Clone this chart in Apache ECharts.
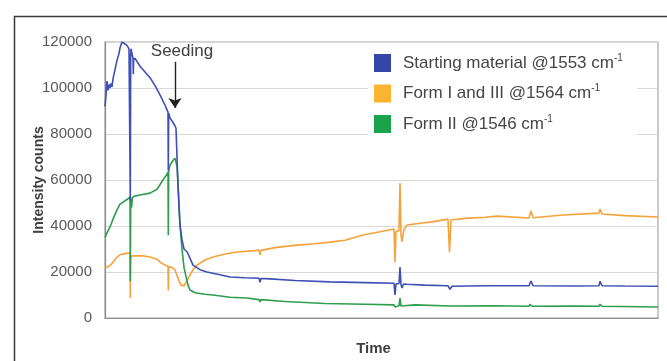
<!DOCTYPE html>
<html><head><meta charset="utf-8">
<script src="https://cdn.jsdelivr.net/npm/echarts@6/dist/echarts.min.js"></script>
<style>html,body{margin:0;padding:0;background:#fff}#c{width:667px;height:361px}</style>
</head><body><div id="c"></div>
<script>
// Time (arbitrary units) and intensity values
const blueT = [0,1,2,3,4,5,6,7,8,10,12,14,15,17,19,22,24,25,25.3,25.7,26,27,28,28.3,28.6,30,32,35,40,45,50,55,60,62,63,63.3,63.7,65,68,70,71,72,73,74,75,77,79,82,85,88,95,102,115,125,140,154,155,156,165,190,225,260,289,290,291,294,295,296,297,298.5,302,320,343,345,347,380,424,426,428,470,494,495,497,520,553];
const blueV = [92000,97000,103000,99000,101500,100000,102000,100500,104000,108000,112000,115000,117500,120000,119500,118500,117000,116500,51000,114000,117000,117000,113000,106000,112000,113000,111500,109500,107000,104500,101000,97000,92500,90500,89500,64000,89000,87000,85000,83500,82500,70000,58000,48000,40500,34000,30000,28800,26000,23000,21000,20000,18800,17800,17500,17300,15500,17200,17000,16300,15700,15400,15100,10000,14800,15000,22200,14500,13000,14800,14700,14300,14000,12500,13800,14000,14000,16100,14000,13900,14000,16000,14000,13900,13800];

const orangeT = [0,3,6,8,11,15,20,25,25.3,25.7,27,30,32,38,45,52,56,60,62,63,63.3,63.7,67,70,72,74,76,77,79,82,85,88,92,100,108,120,132,150,154,155,156,170,192,210,225,240,258,275,289,290,291,294,295,296,297,299,302,315,325,343,344.5,346,360,380,392,424,426,428,458,494,495,497,520,553];
const orangeV = [21700,22300,23200,24000,26000,27500,28000,28300,8700,26000,27000,27000,27400,27000,26500,25500,24000,23000,22800,22500,12000,22300,22000,20900,18500,16000,14300,13500,14000,16000,18700,21000,23000,25200,26500,27800,28700,29300,29600,27500,29400,30600,31700,32300,33000,33800,36100,37500,38700,24300,37500,38000,58700,36000,33200,38500,40400,41200,41700,43000,28700,42600,43300,43800,44300,43500,46500,43600,44800,45600,47400,45200,44500,43900];

const greenT = [0,2,5,8,12,15,18,22,25,25.3,25.7,26,26.5,27.5,30,35,45,52,58,62,63,63.3,63.7,65,68,70,71,72,73,74,75,77,79,81,83,85,90,100,108,125,142,154,155,156,180,220,260,289,290,291,294,295,296,298,310,345,390,424,425,427,470,494,495,497,553];
const greenV = [35000,37000,39600,43000,47000,49500,50400,51500,52600,16000,50000,52000,48000,52500,53000,53500,54300,56000,60000,62500,63500,36000,64000,66500,68500,69500,70000,66000,58000,50000,40400,30000,22000,18000,14300,12200,11000,10300,10000,9000,8700,8000,7000,8000,7200,6300,6000,5700,4800,5500,5300,8700,5200,6000,5700,5200,5300,5100,6000,5100,5200,5100,6000,5100,4800];

const yTicks = [0,20000,40000,60000,80000,100000,120000];
const seedingT = 70;
const seedingRange = [111400, 91300];

const names = ['Starting material @1553 cm', 'Form I and III @1564 cm', 'Form II @1546 cm'];
const zip = (t, v) => t.map((x, i) => [x, v[i]]);

const chart = echarts.init(document.getElementById('c'), null, {renderer: 'canvas'});
const lineBase = {type: 'line', showSymbol: false, symbol: 'none', animation: false, silent: true};
chart.setOption({
  animation: false,
  backgroundColor: '#fff',
  graphic: [{
    type: 'rect', left: 12, top: 14, shape: {width: 700, height: 400},
    style: {fill: 'none', stroke: '#3a3a3a', lineWidth: 1.5}, z: 0
  }],
  grid: {left: 105, top: 42, right: 9, bottom: 43, show: true, borderColor: '#a6a6a6', borderWidth: 1.2, backgroundColor: 'transparent'},
  legend: {
    orient: 'vertical', left: 368, top: 50, itemWidth: 17, itemHeight: 18, itemGap: 11.5,
    icon: 'rect', backgroundColor: '#fff', padding: [3, 14, 2, 6],
    data: names,
    formatter: n => '{a|' + n + '}{s|-1}',
    textStyle: {
      padding: [0, 0, 0, 7],
      rich: {
        a: {fontFamily: 'Liberation Sans, Arial', fontSize: 17, color: '#454545', lineHeight: 20},
        s: {fontFamily: 'Liberation Sans, Arial', fontSize: 10, color: '#454545', verticalAlign: 'top', lineHeight: 20, padding: [0, 0, 8, 0]}
      }
    }
  },
  xAxis: {
    type: 'value', min: 0, max: 553,
    axisLine: {show: true, lineStyle: {color: '#8c8c8c', width: 1.2}},
    axisTick: {show: false}, axisLabel: {show: false}, splitLine: {show: false},
    name: 'Time', nameLocation: 'middle', nameGap: 23,
    nameTextStyle: {fontFamily: 'Liberation Sans, Arial', fontWeight: 'bold', fontSize: 15, color: '#404040', padding: [0, 16, 0, 0]}
  },
  yAxis: {
    type: 'value', min: yTicks[0], max: yTicks[yTicks.length - 1], interval: 20000,
    axisLine: {show: true, lineStyle: {color: '#8c8c8c', width: 1.2}},
    axisTick: {show: false},
    axisLabel: {margin: 13, fontFamily: 'Liberation Sans, Arial', fontSize: 15, color: '#595959', formatter: v => String(v)},
    splitLine: {show: true, lineStyle: {color: '#d9d9d9', width: 1}},
    name: 'Intensity counts', nameLocation: 'middle', nameGap: 59, nameMoveOverlap: false,
    nameTextStyle: {fontFamily: 'Liberation Sans, Arial', fontWeight: 'bold', fontSize: 14, color: '#404040'}
  },
  series: [
    Object.assign({}, lineBase, {name: names[1], color: '#fbb430', data: zip(orangeT, orangeV), lineStyle: {color: '#f6a23a', width: 1.6}, z: 2}),
    Object.assign({}, lineBase, {name: names[2], color: '#1ba34c', data: zip(greenT, greenV), lineStyle: {color: '#2f9e4c', width: 1.6}, z: 3}),
    Object.assign({}, lineBase, {name: names[0], color: '#3646a8', data: zip(blueT, blueV), lineStyle: {color: '#3e4fb6', width: 1.6}, z: 4,
      markLine: {
        silent: true, animation: false, symbol: ['none', 'arrow'], symbolSize: 10,
        lineStyle: {color: '#222', width: 1.4, type: 'solid'},
        label: {show: true, position: 'start', formatter: 'Seeding', distance: 2, offset: [7, 0],
          fontFamily: 'Liberation Sans, Arial', fontSize: 17, color: '#404040'},
        data: [[{coord: [seedingT, seedingRange[0]]}, {coord: [seedingT, seedingRange[1]]}]]
      }
    })
  ]
});
</script></body></html>
